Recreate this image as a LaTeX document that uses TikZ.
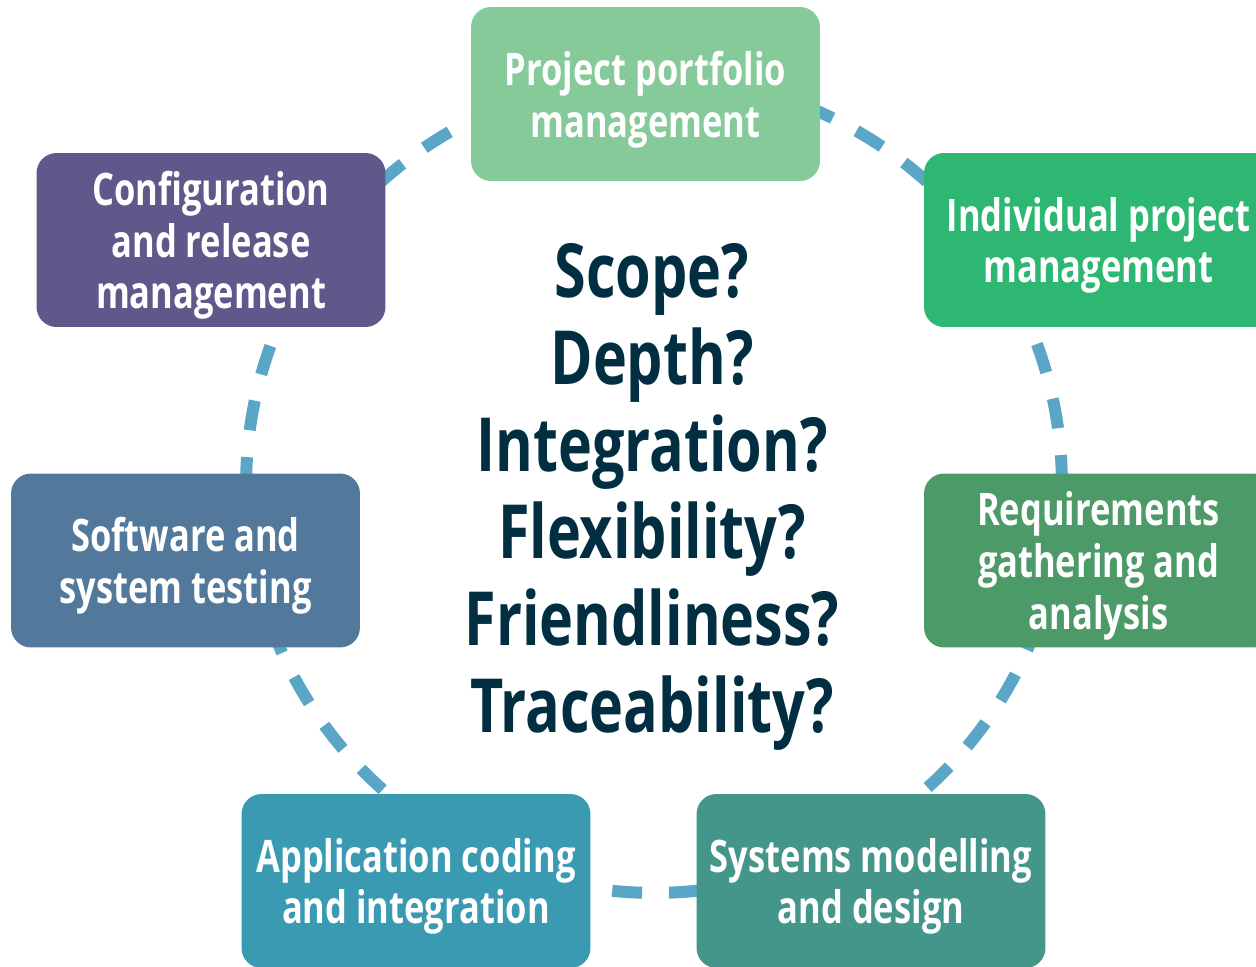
\documentclass[tikz,border=0pt]{standalone}
\usepackage{fontspec}
\usepackage{tikz}
\newfontfamily\boxfont{Open Sans}[FakeStretch=0.77]

\definecolor{portfoliogreen}{HTML}{86CA9A}
\definecolor{projectgreen}{HTML}{2EB673}
\definecolor{reqgreen}{HTML}{4C9A68}
\definecolor{designteal}{HTML}{45968A}
\definecolor{codingblue}{HTML}{3A9AB2}
\definecolor{testingblue}{HTML}{52799B}
\definecolor{releasepurple}{HTML}{5F588A}
\definecolor{ringblue}{HTML}{59A6C7}
\definecolor{asknavy}{HTML}{022E41}

\begin{document}
\begin{tikzpicture}[x=0.02cm, y=-0.02cm,
  stage/.style={rounded corners=0.4cm, minimum width=6.98cm, minimum height=3.48cm,
    text=white, align=center, text depth=0pt,
    font=\boxfont\bfseries\fontsize{25.5}{29.5}\selectfont},
  ring/.style={draw=ringblue, line width=0.24cm, dash pattern=on 0.6cm off 0.54cm},
  ask/.style={text=asknavy, align=center, font=\boxfont\bfseries\fontsize{42.5}{49.5}\selectfont}]
  \useasboundingbox (0,0) rectangle (1256,966);
  \clip (0,0) rectangle (1256,966);
  \coordinate (hub) at (654,485);
  \draw[ring] (hub) circle[radius=8.16cm];

  \node[stage, fill=portfoliogreen] (ppm) at (645.5,94) {Project portfolio\\management};
  \node[stage, fill=projectgreen] (ipm) at (1098.5,240) {Individual project\\management};
  \node[stage, fill=reqgreen] (rga) at (1098.5,560.5) {Requirements\\gathering and\\analysis};
  \node[stage, fill=designteal] (smd) at (871,881) {Systems modelling\\and design};
  \node[stage, fill=codingblue] (aci) at (416,881) {Application coding\\and integration};
  \node[stage, fill=testingblue] (sst) at (185.5,560.5) {Software and\\system testing};
  \node[stage, fill=releasepurple] (crm) at (211,240) {Configuration\\and release\\management};

  \node[ask] (questions) at (652,497) {Scope?\\Depth?\\Integration?\\Flexibility?\\Friendliness?\\Traceability?};
\end{tikzpicture}
\end{document}
